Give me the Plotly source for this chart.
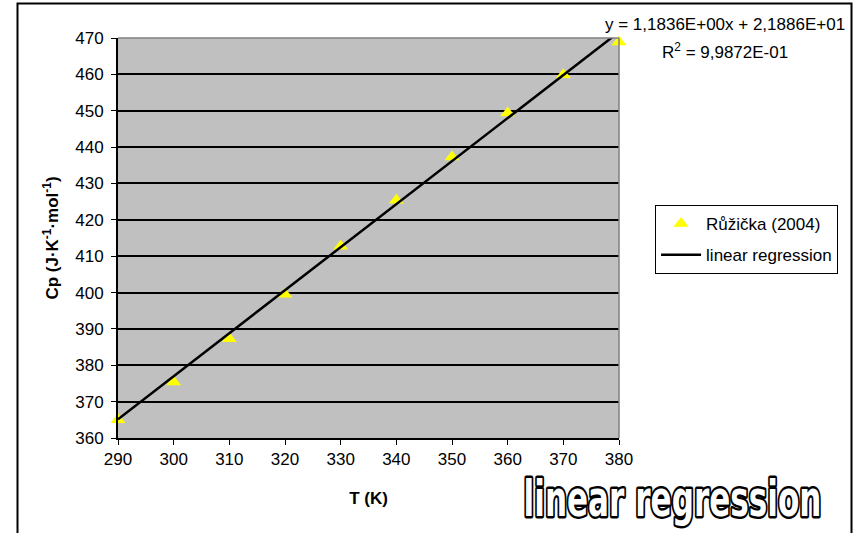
import numpy as np
import plotly.graph_objects as go

# Heat capacity data (Růžička 2004)
temperature_K = [290, 300, 310, 320, 330, 340, 350, 360, 370, 380]
cp_values = [365.0, 375.4, 387.3, 399.5, 412.7, 425.4, 437.3, 449.4, 459.9, 468.9]

# Linear regression coefficients as reported in the equation label
slope = 1.1836
intercept = 21.886
r_squared = 0.99872

x_ticks = [290, 300, 310, 320, 330, 340, 350, 360, 370, 380]
y_ticks = [360, 370, 380, 390, 400, 410, 420, 430, 440, 450, 460, 470]

FONT = "Liberation Sans, Arial, sans-serif"

fit_x = np.array([min(temperature_K), max(temperature_K)], dtype=float)
fit_y = slope * fit_x + intercept

fig = go.Figure()
fig.add_trace(go.Scatter(
    x=temperature_K, y=cp_values, mode="markers", name="Růžička (2004)",
    marker=dict(symbol="triangle-up", size=13, color="#FFFF00", line=dict(width=0)),
    cliponaxis=False, legendgroup="a",
))
fig.add_trace(go.Scatter(
    x=fit_x, y=fit_y, mode="lines", name="linear regression",
    line=dict(color="black", width=2.5), legendgroup="b",
))

axis_common = dict(
    showline=True, linecolor="black", linewidth=2,
    ticks="outside", ticklen=5, tickcolor="black", tickwidth=1,
    tickfont=dict(family=FONT, size=17, color="black"),
    zeroline=False,
)

fig.update_xaxes(
    range=[290, 380], tickvals=x_ticks, showgrid=False,
    title=dict(text="T (K)", font=dict(family=FONT, size=17, color="black", weight="bold"), standoff=24),
    **axis_common,
)
fig.update_yaxes(
    range=[360, 470], tickvals=y_ticks, showgrid=True, gridcolor="black", gridwidth=1.5,
    title=dict(text="Cp (J·K<sup>-1</sup>·mol<sup>-1</sup>)",
               font=dict(family=FONT, size=17, color="black", weight="bold"), standoff=12),
    ticklabelstandoff=4,
    **axis_common,
)

def fmt_sci(v):
    s = f"{v:.4E}"
    mant, exp = s.split("E")
    sign = exp[0]
    return mant.replace(".", ",") + "E" + sign + exp[1:].zfill(2)

eq_text = f"y = {fmt_sci(slope)}x + {fmt_sci(intercept)}"
r2_text = f"R<sup>2</sup> = {fmt_sci(r_squared)}"

fig.update_layout(
    width=854, height=533,
    margin=dict(l=118, r=235, t=38, b=95),
    paper_bgcolor="white", plot_bgcolor="#C0C0C0",
    font=dict(family=FONT, color="black"),
    showlegend=True,
    legend=dict(
        x=1.072, y=0.5825, xanchor="left", yanchor="top",
        bgcolor="white", bordercolor="black", borderwidth=1,
        font=dict(family=FONT, size=17, color="black"),
        tracegroupgap=6, traceorder="grouped", itemwidth=40,
    ),
    annotations=[
        dict(xref="paper", yref="paper", x=1.212, y=1.033, xanchor="center", yanchor="middle",
             text=eq_text, showarrow=False, font=dict(family=FONT, size=17, color="black")),
        dict(xref="paper", yref="paper", x=1.212, y=0.968, xanchor="center", yanchor="middle",
             text=r2_text, showarrow=False, font=dict(family=FONT, size=17, color="black")),
        dict(xref="paper", yref="paper", x=1.106, y=-0.152, xanchor="center", yanchor="middle",
             text="linear regression", showarrow=False,
             font=dict(family="DejaVu Sans Condensed, DejaVu Sans", size=50, color="white", weight="bold")),
    ],
    shapes=[
        # gray frame on top and right of the plot area
        dict(type="line", xref="paper", yref="paper", x0=0, x1=1, y0=1, y1=1,
             line=dict(color="#808080", width=1.5), layer="above"),
        dict(type="line", xref="paper", yref="paper", x0=1, x1=1, y0=0, y1=1,
             line=dict(color="#808080", width=1.5), layer="above"),
        # outer chart border
        dict(type="rect", xref="paper", yref="paper",
             x0=(17.5 - 118) / 501, x1=(851.5 - 118) / 501,
             y0=(438 - 560) / 400, y1=(438 - 3.5) / 400,
             line=dict(color="black", width=2), fillcolor="rgba(0,0,0,0)", layer="above"),
    ],
)

# Condensed, outlined style for the large caption
post = """
var gd = document.getElementById('{plot_id}');
gd.querySelectorAll('text.annotation-text').forEach(function(t){
  if (t.textContent === 'linear regression') {
    var w = t.getBBox().width;
    t.style.transformBox = 'fill-box';
    t.style.transformOrigin = 'center';
    t.style.transform = 'scaleX(' + (298 / w) + ')';
    t.style.stroke = '#000';
    t.style.strokeWidth = '5px';
    t.style.paintOrder = 'stroke';
    t.style.strokeLinejoin = 'round';
  }
});
"""

fig.write_html("out.html", post_script=post)
